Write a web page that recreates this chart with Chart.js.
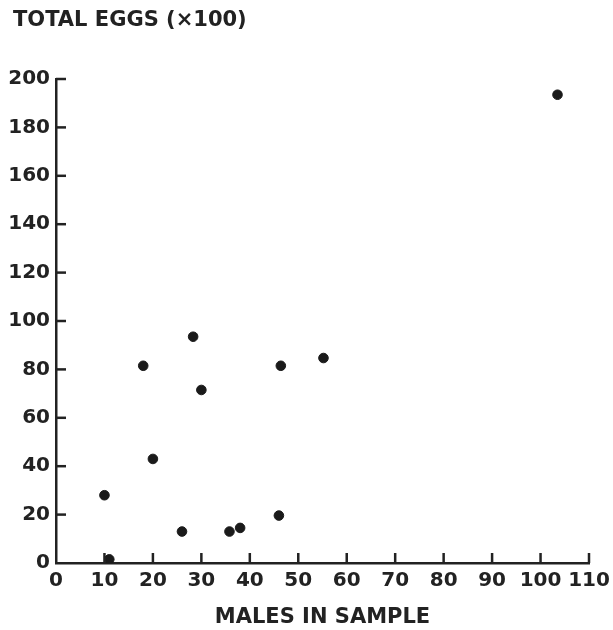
<!DOCTYPE html>
<html>
<head>
<meta charset="utf-8">
<script src="https://cdn.jsdelivr.net/npm/chart.js@4"></script>
<style>
  html, body { margin: 0; padding: 0; background: #fff; }
  #wrap { width: 613px; height: 630px; }
</style>
</head>
<body>
<div id="wrap"><canvas id="eggs"></canvas></div>
<script>
// males counted in each sample and total eggs (in hundreds)
var malesInSample = [10, 11, 18, 20, 26, 28.3, 30, 35.8, 38, 46, 46.4, 55.2, 103.5];
var totalEggs = [28, 1.5, 81.5, 43, 13, 93.5, 71.5, 13, 14.5, 19.6, 81.5, 84.7, 193.5];

var xTickMax = 110;
var yTickMax = 200;
var yTitle = 'TOTAL EGGS (×100)';

var ink = '#222';
var fontFamily = '"DejaVu Sans", Verdana, sans-serif';

var points = malesInSample.map(function(m, i) {
  return { x: m, y: totalEggs[i] };
});

// ticks drawn on the inside of both axes, plus the y title above the axis
var innerTicks = {
  id: 'innerTicks',
  afterDatasetsDraw: function(chart) {
    var ctx = chart.ctx;
    var xs = chart.scales.x;
    var ys = chart.scales.y;
    var area = chart.chartArea;
    ctx.save();
    ctx.strokeStyle = ink;
    ctx.lineWidth = 2.5;
    xs.ticks.forEach(function(t) {
      if (t.value === 0) return;
      var px = xs.getPixelForValue(t.value);
      ctx.beginPath();
      ctx.moveTo(px, area.bottom);
      ctx.lineTo(px, area.bottom - 10);
      ctx.stroke();
    });
    ys.ticks.forEach(function(t) {
      if (t.value === 0) return;
      var py = ys.getPixelForValue(t.value);
      ctx.beginPath();
      ctx.moveTo(area.left, py);
      ctx.lineTo(area.left + 10, py);
      ctx.stroke();
    });
    ctx.fillStyle = ink;
    ctx.font = 'bold 21px ' + fontFamily;
    ctx.textAlign = 'left';
    ctx.textBaseline = 'middle';
    ctx.fillText(yTitle, 13, 21);
    ctx.restore();
  }
};

var ctx = document.getElementById('eggs').getContext('2d');
var myChart = new Chart(ctx, {
  type: 'scatter',
  data: {
    datasets: [{
      label: 'Total eggs',
      data: points,
      backgroundColor: '#1a1a1a',
      borderColor: '#1a1a1a',
      pointRadius: 4.8,
      pointHoverRadius: 4.8
    }]
  },
  options: {
    responsive: true,
    maintainAspectRatio: false,
    animation: false,
    layout: { padding: { left: 0, right: 24, top: 79, bottom: 0 } },
    plugins: {
      legend: { display: false },
      tooltip: { enabled: false },
      title: { display: false }
    },
    scales: {
      x: {
        type: 'linear',
        min: 0,
        max: xTickMax,
        afterFit: function(scale) {
          scale.height = 67;
          scale.paddingLeft = 0;
          scale.paddingRight = 0;
        },
        ticks: {
          stepSize: 10,
          padding: 6,
          maxRotation: 0,
          color: ink,
          font: { family: fontFamily, size: 20, weight: 'bold' }
        },
        grid: { display: true, drawOnChartArea: false, drawTicks: false },
        border: { display: true, color: ink, width: 2.5 },
        title: {
          display: true,
          text: 'MALES IN SAMPLE',
          color: ink,
          padding: { top: 0, bottom: 0 },
          font: { family: fontFamily, size: 21, weight: 'bold', lineHeight: 1.2 }
        }
      },
      y: {
        type: 'linear',
        min: 0,
        max: yTickMax,
        afterFit: function(scale) {
          scale.width = 56;
          scale.paddingTop = 0;
          scale.paddingBottom = 0;
        },
        ticks: {
          stepSize: 20,
          padding: 6,
          color: ink,
          font: { family: fontFamily, size: 20, weight: 'bold' }
        },
        grid: { display: true, drawOnChartArea: false, drawTicks: false },
        border: { display: true, color: ink, width: 2.5 }
      }
    }
  },
  plugins: [innerTicks]
});
</script>
</body>
</html>
